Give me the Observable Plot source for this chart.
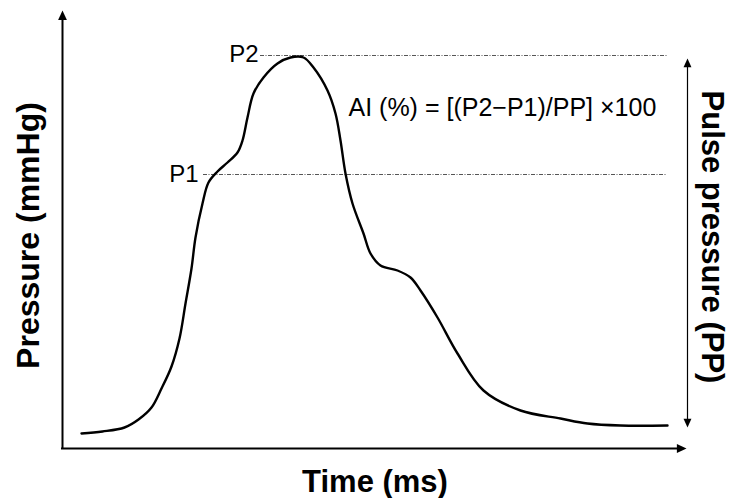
<!DOCTYPE html>
<html><head><meta charset="utf-8">
<script src="https://cdn.jsdelivr.net/npm/d3@7"></script>
<script src="https://cdn.jsdelivr.net/npm/@observablehq/plot@0.6"></script>
<style>html,body{margin:0;padding:0;background:#fff;overflow:hidden}</style>
</head><body><div id="chart"></div>
<script>
// Pressure waveform (time in ms-like units, pressure in arbitrary units)
const time =     [19, 40, 62, 76, 89, 99, 109, 117, 123, 129, 133, 140, 146, 155, 165, 175, 180, 185, 191, 201, 215, 228, 241, 251, 265, 273, 278, 283, 290, 301, 308, 318, 335, 348, 358, 375, 395, 421, 458, 498, 525, 558, 605];
const pressure = [15, 17, 21, 29, 41, 60,  82, 110, 145, 180, 211, 245, 266, 277, 286, 296, 308, 331, 355, 371, 385, 391, 391, 381, 358, 335, 308, 275, 245, 215, 195, 183, 178, 171, 158, 131,  95,  58,  38,  30,  25,  23,  23];

// Reference levels
const P1 = 274, P2 = 393;
const guideStart = [141, 198];
const guideEnd = 605;
const ppTop = 390, ppBottom = 21, ppX = 625;
const xAxisEnd = 624, yAxisEnd = 438;

const pointLabels = ["P1", "P2"];
const formula = "AI (%) = [(P2\u2212P1)/PP] \u00d7100";
const xTitle = "Time (ms)";
const yTitle = "Pressure (mmHg)";
const ppTitle = "Pulse pressure (PP)";

const font = "Liberation Sans, Arial, Helvetica, sans-serif";

function arrowSymbol(dir) {
  return {
    draw(ctx, size) {
      const r = Math.sqrt(size / Math.PI);
      const L = 2.4 * r, W = 1.1 * r;
      if (dir === "up") { ctx.moveTo(0, 0); ctx.lineTo(-W, L); ctx.lineTo(W, L); }
      else if (dir === "down") { ctx.moveTo(0, 0); ctx.lineTo(-W, -L); ctx.lineTo(W, -L); }
      else { ctx.moveTo(0, 0); ctx.lineTo(-L, -W); ctx.lineTo(-L, W); }
      ctx.closePath();
    }
  };
}

const wave = time.map((t, i) => ({t, p: pressure[i]}));
const guides = [{y: P1, x1: guideStart[0]}, {y: P2, x1: guideStart[1]}];
const labelData = [{label: pointLabels[0], x: guideStart[0] - 5, y: P1}, {label: pointLabels[1], x: guideStart[1] - 2, y: P2 + 1}];

const chart = Plot.plot({
  width: 733,
  height: 498,
  marginLeft: 62,
  marginRight: 46,
  marginTop: 8,
  marginBottom: 50,
  x: {domain: [0, 625], axis: null},
  y: {domain: [0, 440], axis: null},
  style: {background: "white", fontFamily: font, color: "black"},
  marks: [
    // dotted guides
    Plot.ruleY(guides, {y: "y", x1: "x1", x2: guideEnd, stroke: "#555", strokeWidth: 1, strokeDasharray: "4 1.5 1 1.5"}),
    // main axes
    Plot.ruleX([0], {y1: 0, y2: yAxisEnd - 4, stroke: "black", strokeWidth: 2}),
    Plot.ruleY([0], {x1: -1, x2: xAxisEnd - 4, stroke: "black", strokeWidth: 2}),
    Plot.dot([{x: 0, y: yAxisEnd}], {x: "x", y: "y", r: 4, symbol: arrowSymbol("up"), fill: "black", stroke: null}),
    Plot.dot([{x: xAxisEnd, y: 0}], {x: "x", y: "y", r: 4, symbol: arrowSymbol("right"), fill: "black", stroke: null}),
    // pulse pressure double arrow
    Plot.ruleX([ppX], {y1: ppBottom + 4, y2: ppTop - 4, stroke: "black", strokeWidth: 1.2}),
    Plot.dot([{x: ppX, y: ppTop}], {x: "x", y: "y", r: 3.6, symbol: arrowSymbol("up"), fill: "black", stroke: null}),
    Plot.dot([{x: ppX, y: ppBottom}], {x: "x", y: "y", r: 3.6, symbol: arrowSymbol("down"), fill: "black", stroke: null}),
    // waveform
    Plot.line(wave, {x: "t", y: "p", curve: "catmull-rom", stroke: "black", strokeWidth: 2.4}),
    // labels
    Plot.text(labelData, {x: "x", y: "y", text: "label", textAnchor: "end", lineAnchor: "middle", fontSize: 24, fill: "black", fontFamily: font}),
    Plot.text([formula], {x: 286, y: 341, textAnchor: "start", lineAnchor: "middle", fontSize: 25, fill: "black", fontFamily: font}),
    Plot.text([xTitle], {frameAnchor: "bottom", dy: 34, textAnchor: "middle", lineAnchor: "middle", fontSize: 31, fontWeight: "bold", fill: "black", fontFamily: font}),
    Plot.text([yTitle], {frameAnchor: "left", dx: -34, dy: 7, rotate: -90, textAnchor: "middle", lineAnchor: "middle", fontSize: 32, fontWeight: "bold", fill: "black", fontFamily: font}),
    Plot.text([ppTitle], {frameAnchor: "right", dx: 24, dy: 8.5, rotate: 90, textAnchor: "middle", lineAnchor: "middle", fontSize: 31, fontWeight: "bold", fill: "black", fontFamily: font})
  ]
});
document.getElementById("chart").appendChild(chart);
</script>
</body></html>
